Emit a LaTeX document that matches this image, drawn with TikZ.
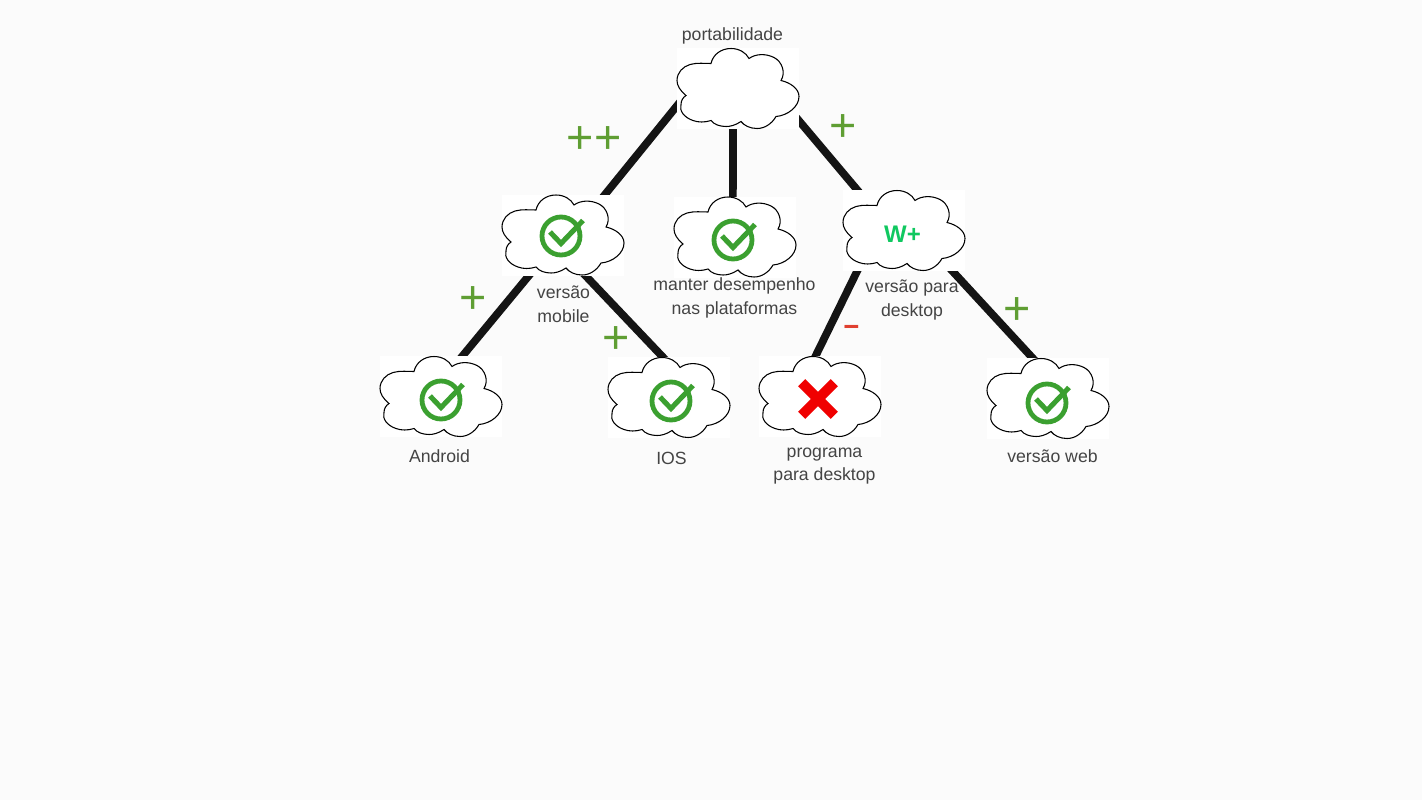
\documentclass[tikz,border=0pt]{standalone}
\usepackage{fontspec}
\setmainfont{Liberation Sans}
\usetikzlibrary{backgrounds}
\definecolor{pagecolor}{HTML}{FBFBFB}
\definecolor{labelcolor}{HTML}{444444}
\definecolor{pluscolor}{HTML}{5F9E33}
\definecolor{minuscolor}{HTML}{E04030}
\definecolor{okcolor}{HTML}{3BA030}
\definecolor{wpluscolor}{HTML}{10C860}
\definecolor{nocolor}{HTML}{F00000}
\tikzset{
  cloudbox/.style={fill=white,inner sep=0pt,minimum width=91.5pt,minimum height=60.75pt},
  tubeline/.style={line width=5.8pt,draw=black!92,shorten >=-5pt,shorten <=-5pt},
  lbl/.style={text=labelcolor,align=center,font=\fontsize{13.25}{17.8}\selectfont},
  sign/.style={inner sep=0pt,font=\fontsize{35}{35}\selectfont},
  cloudline/.pic={
    \draw[line width=0.8pt] (-27,-25) .. controls (-25,-34) and (-17,-40) .. (-7,-40)
      .. controls (1,-40) and (8,-36) .. (11,-30)
      .. controls (18,-35) and (28,-35) .. (36,-31)
      .. controls (44,-27) and (48,-16) .. (43,-8)
      .. controls (52,-6) and (61,0) .. (61,8)
      .. controls (61,18) and (50,27) .. (38,28)
      .. controls (34,35) and (27,40) .. (19,40)
      .. controls (12,40) and (6,37) .. (3,33)
      .. controls (-3,37) and (-8,38) .. (-12,38)
      .. controls (-18,38) and (-24,36) .. (-27,32)
      .. controls (-33,34) and (-40,34) .. (-45,32)
      .. controls (-54,29) and (-59,22) .. (-57,16)
      .. controls (-57,12) and (-55,9) .. (-52,7)
      .. controls (-58,2) and (-61,-3) .. (-61,-8)
      .. controls (-61,-16) and (-55,-22) .. (-48,-24)
      .. controls (-41,-26) and (-33,-25) .. (-27,-25) -- cycle;
  },
  okmark/.pic={
    \draw[okcolor,line width=3.6pt] (0,0) circle (19);
    \draw[okcolor,line width=3.8pt] (-11,-4) -- (0,7.5) -- (22,-15.5);
  },
  nomark/.pic={
    \draw[nocolor,line width=7.5pt] (-16.3,-16.3) -- (16.3,16.3);
    \draw[nocolor,line width=7.5pt] (-16.3,16.3) -- (16.3,-16.3);
  }
}
\newcommand{\cloudnode}[2]{
\node[cloudbox] (#1) at (#2) {};
\pic at (#1) {cloudline};
}
\begin{document}
\begin{tikzpicture}[x=0.75pt,y=-0.75pt]
\useasboundingbox (0,0) rectangle (1422,800);
\begin{scope}[on background layer]
\fill[pagecolor] (0,0) rectangle (1422,800);
\end{scope}
\cloudnode{portab}{738,88.5}
\cloudnode{mobile}{563,235}
\cloudnode{manter}{735,237}
\cloudnode{versao}{904,230.5}
\cloudnode{android}{441,396.5}
\cloudnode{ios}{669,397.5}
\cloudnode{programa}{820,396.5}
\cloudnode{web}{1048,398.5}
%connectors
\begin{scope}[on background layer]
\draw[tubeline] (portab.196) -- (mobile.44);
\draw[tubeline] (portab.263) -- (manter.93);
\draw[tubeline] (portab.332) -- (versao.139);
\draw[tubeline] (mobile.230) -- (android.62);
\draw[tubeline] (mobile.299) -- (ios.99);
\draw[tubeline] (versao.221) -- (programa.96);
\draw[tubeline] (versao.320) -- (web.111);
\end{scope}
%icons
\pic at (561,236) {okmark};
\pic at (733,240) {okmark};
\pic at (441,400) {okmark};
\pic at (671,401) {okmark};
\pic at (1047,403) {okmark};
\pic at (818,399) {nomark};
\node[inner sep=0pt,text=wpluscolor,font=\bfseries\fontsize{18}{18}\selectfont] (wplus) at (902.5,234.5) {W+};
%labels
\node[lbl] (lportab) at (732.5,35.5) {portabilidade};
\node[lbl] (lmobile) at (563.5,304.5) {versão\\mobile};
\node[lbl] (lmanter) at (734.5,298) {manter desempenho\\nas plataformas};
\node[lbl] (lversao) at (912,300) {versão para\\desktop};
\node[lbl] (landroid) at (439.5,456.5) {Android};
\node[lbl] (lios) at (671.5,458.5) {IOS};
\node[lbl] (lprograma) at (824.5,466) {programa\\para desktop};
\node[lbl] (lweb) at (1052.5,456.5) {versão web};
%signs
\node[sign,text=pluscolor] (s1) at (594,140) {++};
\node[sign,text=pluscolor] (s2) at (843,128) {+};
\node[sign,text=pluscolor] (s3) at (473,300) {+};
\node[sign,text=pluscolor] (s4) at (616,340) {+};
\node[sign,text=pluscolor] (s5) at (1017,311) {+};
\node[sign,text=minuscolor] (s6) at (851.5,331) {\scalebox{1.2}[0.85]{-}};
\end{tikzpicture}
\end{document}
